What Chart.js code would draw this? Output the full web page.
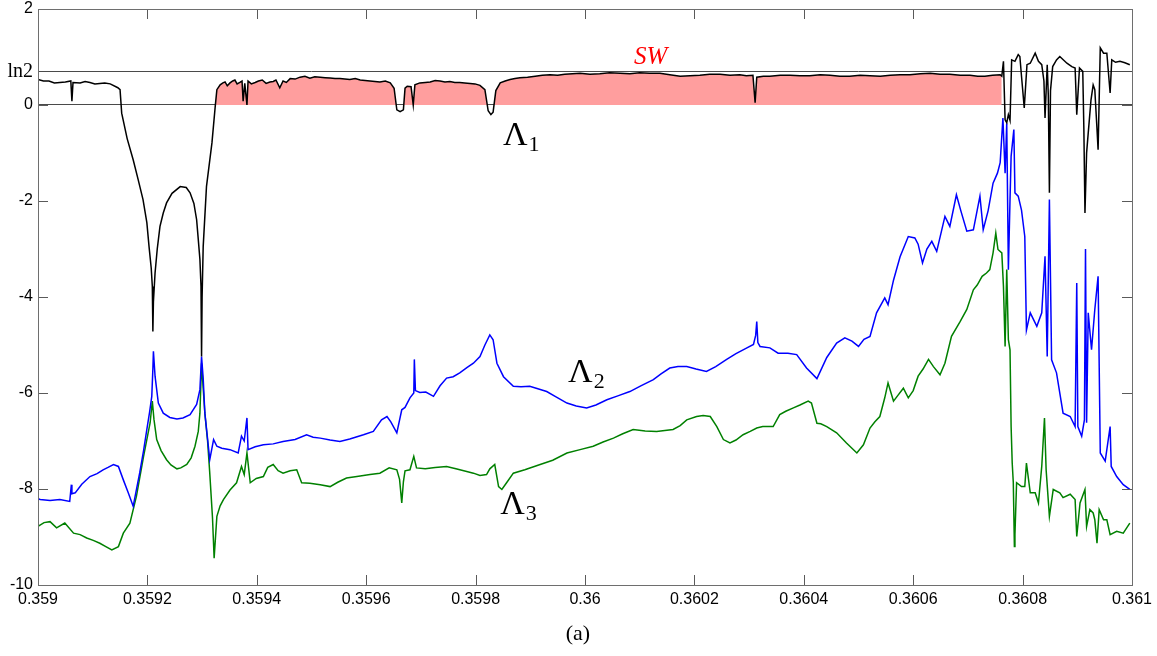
<!DOCTYPE html>
<html>
<head>
<meta charset="utf-8">
<title>Lyapunov exponents</title>
<script src="https://cdn.jsdelivr.net/npm/chart.js@4.4.1/dist/chart.umd.min.js"></script>
<style>
  html, body { margin: 0; padding: 0; background: #fff; }
  #wrap { width: 1157px; height: 656px; }
</style>
</head>
<body>
<div id="wrap"><canvas id="lyapChart" width="1157" height="656"></canvas></div>
<script>
// Axis ticks
const xTicks = [0.359, 0.3592, 0.3594, 0.3596, 0.3598, 0.36, 0.3602, 0.3604, 0.3606, 0.3608, 0.361];
const xTickLabels = ['0.359', '0.3592', '0.3594', '0.3596', '0.3598', '0.36', '0.3602', '0.3604', '0.3606', '0.3608', '0.361'];
const yTicks = [-10, -8, -6, -4, -2, 0, Math.LN2, 2];
const yTickLabels = ['-10', '-8', '-6', '-4', '-2', '0', 'ln2', '2'];

// Λ1 (largest exponent)
const lambda1X = [
  0.359, 0.35901, 0.35902, 0.35903, 0.35904, 0.35905, 0.35906, 0.359062, 0.359064, 0.359077,
  0.359086, 0.359095, 0.359104, 0.359113, 0.359122, 0.359132, 0.359146, 0.35915, 0.359153, 0.359163,
  0.359174, 0.359183, 0.359192, 0.359199, 0.359203, 0.359207, 0.359209, 0.35921, 0.359211, 0.359214,
  0.359218, 0.359223, 0.359229, 0.359235, 0.359245, 0.35926, 0.359271, 0.359278, 0.359285, 0.35929,
  0.359293, 0.359296, 0.359298, 0.359299, 0.3593, 0.359302, 0.359308, 0.359318, 0.359324, 0.359327,
  0.359333, 0.359338, 0.359342, 0.359346, 0.359351, 0.359356, 0.35936, 0.359364, 0.359369, 0.359373,
  0.359375, 0.359378, 0.359382, 0.359384, 0.35939, 0.359397, 0.359403, 0.35941, 0.359417, 0.359424,
  0.35943, 0.359435, 0.359442, 0.359448, 0.359454, 0.359461, 0.35947, 0.359479, 0.359488, 0.359497,
  0.359506, 0.359516, 0.359525, 0.359534, 0.359543, 0.359552, 0.359561, 0.35957, 0.35958, 0.359589,
  0.359598, 0.359607, 0.359616, 0.359625, 0.359635, 0.359644, 0.359651, 0.359656, 0.359662, 0.359668,
  0.359671, 0.359675, 0.359682, 0.359686, 0.359689, 0.359698, 0.359708, 0.359717, 0.359726, 0.359735,
  0.359744, 0.359753, 0.359762, 0.359771, 0.35978, 0.35979, 0.359799, 0.359808, 0.359817, 0.359823,
  0.359828, 0.359832, 0.359837, 0.359845, 0.359854, 0.359863, 0.359872, 0.359881, 0.359895, 0.359909,
  0.359922, 0.359936, 0.35995, 0.359963, 0.359977, 0.359991, 0.360009, 0.360027, 0.360045, 0.360064,
  0.360082, 0.3601, 0.360118, 0.360137, 0.360155, 0.360174, 0.360192, 0.36021, 0.360228, 0.360247,
  0.360265, 0.360283, 0.360295, 0.360307, 0.360311, 0.360314, 0.360326, 0.360338, 0.360357, 0.360375,
  0.360393, 0.360411, 0.36043, 0.360448, 0.360466, 0.360484, 0.360503, 0.360521, 0.36054, 0.360558,
  0.360576, 0.360594, 0.360613, 0.360631, 0.360649, 0.360667, 0.360686, 0.360704, 0.360718, 0.360731,
  0.360745, 0.360759, 0.360762, 0.360765, 0.360768, 0.360771, 0.360774, 0.360777, 0.36078, 0.360786,
  0.360792, 0.360795, 0.360798, 0.360803, 0.360808, 0.360814, 0.360823, 0.360829, 0.360835, 0.360839,
  0.360841, 0.360845, 0.360847, 0.360849, 0.360851, 0.360855, 0.360862, 0.360868, 0.360881, 0.36089,
  0.360896, 0.360899, 0.360904, 0.36091, 0.360912, 0.360914, 0.360917, 0.36092, 0.360925, 0.360929,
  0.360932, 0.360936, 0.360938, 0.360942, 0.360948, 0.360954, 0.36096, 0.360963, 0.36097, 0.360978,
  0.360987, 0.360996
];
const lambda1Y = [
  0.53, 0.50, 0.50, 0.46, 0.47, 0.48, 0.50, 0.08, 0.47, 0.46,
  0.49, 0.47, 0.44, 0.45, 0.46, 0.44, 0.36, 0.32, -0.17, -0.70,
  -1.14, -1.55, -1.97, -2.45, -2.95, -3.40, -3.78, -4.72, -4.10, -3.50,
  -3.00, -2.53, -2.25, -2.04, -1.84, -1.70, -1.72, -1.83, -2.05, -2.39,
  -2.80, -3.22, -3.78, -5.24, -4.00, -2.95, -1.70, -0.79, -0.03, 0.32,
  0.42, 0.46, 0.48, 0.40, 0.46, 0.50, 0.52, 0.44, 0.47, 0.50,
  0.08, 0.45, 0.00, 0.50, 0.44, 0.47, 0.50, 0.52, 0.45, 0.48,
  0.49, 0.52, 0.36, 0.50, 0.47, 0.55, 0.54, 0.58, 0.60, 0.56,
  0.59, 0.58, 0.57, 0.56, 0.55, 0.55, 0.54, 0.53, 0.55, 0.52,
  0.51, 0.50, 0.49, 0.48, 0.50, 0.46, 0.35, -0.10, -0.14, -0.10,
  0.35, 0.39, 0.38, 0.00, 0.42, 0.46, 0.47, 0.48, 0.51, 0.50,
  0.48, 0.49, 0.47, 0.47, 0.46, 0.45, 0.44, 0.41, 0.32, -0.12,
  -0.20, -0.15, 0.30, 0.46, 0.50, 0.53, 0.55, 0.57, 0.58, 0.60,
  0.62, 0.63, 0.62, 0.64, 0.65, 0.66, 0.64, 0.65, 0.67, 0.66,
  0.65, 0.67, 0.66, 0.66, 0.63, 0.60, 0.61, 0.62, 0.64, 0.64,
  0.62, 0.63, 0.61, 0.62, 0.05, 0.58, 0.60, 0.60, 0.62, 0.62,
  0.61, 0.61, 0.63, 0.62, 0.60, 0.60, 0.62, 0.61, 0.60, 0.62,
  0.63, 0.63, 0.65, 0.66, 0.64, 0.64, 0.62, 0.62, 0.60, 0.60,
  0.62, 0.63, 0.60, 0.91, -0.31, -0.37, -0.20, -0.32, 0.94, 0.91,
  1.05, 1.01, 0.60, -0.06, 0.84, 0.87, 1.08, 0.91, 0.84, 0.50,
  -0.27, 0.84, 0.20, -1.83, 0.30, 0.80, 0.94, 1.01, 0.87, 0.80,
  0.77, -0.20, 0.77, 0.70, -0.50, -2.25, -1.00, -0.58, 0.10, 0.42,
  0.32, -0.50, -0.93, 1.19, 1.08, 1.08, 0.25, 0.94, 0.89, 0.91,
  0.88, 0.84
];

// Λ2
const lambda2X = [
  0.359, 0.359004, 0.359022, 0.35904, 0.359058, 0.359061, 0.359062, 0.359068, 0.35908, 0.359095,
  0.359108, 0.359119, 0.359128, 0.359138, 0.359147, 0.359156, 0.359165, 0.359174, 0.359181, 0.359186,
  0.359193, 0.359199, 0.359204, 0.359208, 0.35921, 0.359211, 0.359214, 0.35922, 0.359229, 0.359241,
  0.359254, 0.359265, 0.359278, 0.35929, 0.359296, 0.359299, 0.359302, 0.359305, 0.359314, 0.359321,
  0.359327, 0.359336, 0.359351, 0.359366, 0.359372, 0.359377, 0.359382, 0.359384, 0.359397, 0.359412,
  0.35943, 0.359448, 0.35947, 0.359491, 0.359503, 0.359516, 0.359534, 0.359552, 0.35957, 0.359595,
  0.359613, 0.359628, 0.359638, 0.359645, 0.359656, 0.359665, 0.359671, 0.35968, 0.359687, 0.359688,
  0.35969, 0.359698, 0.359709, 0.359723, 0.359735, 0.359747, 0.359759, 0.359771, 0.359784, 0.359796,
  0.359808, 0.359817, 0.359826, 0.359832, 0.359839, 0.359851, 0.359869, 0.359883, 0.359899, 0.35993,
  0.359947, 0.359967, 0.359984, 0.360003, 0.36002, 0.36004, 0.36006, 0.360082, 0.360102, 0.360125,
  0.360139, 0.360155, 0.36017, 0.360186, 0.360203, 0.360222, 0.360239, 0.360259, 0.360276, 0.360296,
  0.360308, 0.360312, 0.360314, 0.360316, 0.36032, 0.360338, 0.360353, 0.360371, 0.360387, 0.360405,
  0.360424, 0.360442, 0.36046, 0.360475, 0.360488, 0.3605, 0.36051, 0.360521, 0.360533, 0.360548,
  0.360554, 0.360564, 0.360576, 0.360591, 0.360603, 0.360609, 0.360617, 0.360625, 0.360634, 0.360643,
  0.360658, 0.360667, 0.360679, 0.360687, 0.360698, 0.36071, 0.360722, 0.360728, 0.360737, 0.360746,
  0.360754, 0.360759, 0.360764, 0.360768, 0.360771, 0.360774, 0.360777, 0.360779, 0.360784, 0.360786,
  0.360792, 0.360798, 0.360804, 0.360807, 0.360814, 0.360826, 0.360835, 0.360841, 0.360845, 0.360849,
  0.360853, 0.360862, 0.360874, 0.360887, 0.360896, 0.360899, 0.360901, 0.360908, 0.360913, 0.360915,
  0.360917, 0.36092, 0.360926, 0.360932, 0.360938, 0.360942, 0.360951, 0.36096, 0.360962, 0.360972,
  0.360984, 0.360996
];
const lambda2Y = [
  -8.20, -8.22, -8.24, -8.22, -8.26, -7.91, -8.10, -8.08, -7.90, -7.74,
  -7.68, -7.60, -7.55, -7.49, -7.53, -7.81, -8.08, -8.36, -7.95, -7.66,
  -7.20, -6.76, -6.40, -6.07, -5.50, -5.13, -5.65, -6.21, -6.42, -6.51,
  -6.54, -6.52, -6.45, -6.24, -5.93, -5.24, -5.70, -6.41, -7.39, -6.97,
  -7.11, -7.15, -7.18, -7.25, -6.90, -7.00, -6.52, -7.18, -7.12, -7.08,
  -7.06, -7.01, -6.97, -6.87, -6.92, -6.94, -6.98, -7.01, -6.96, -6.87,
  -6.80, -6.56, -6.49, -6.60, -6.83, -6.35, -6.30, -6.10, -6.00, -5.30,
  -5.95, -5.99, -5.98, -6.07, -5.85, -5.69, -5.66, -5.58, -5.47, -5.38,
  -5.24, -5.00, -4.79, -4.89, -5.38, -5.66, -5.86, -5.87, -5.86, -5.97,
  -6.08, -6.21, -6.27, -6.31, -6.25, -6.14, -6.06, -5.97, -5.85, -5.72,
  -5.60, -5.48, -5.45, -5.45, -5.50, -5.55, -5.45, -5.30, -5.18, -5.06,
  -4.99, -4.80, -4.51, -4.95, -5.03, -5.06, -5.17, -5.17, -5.20, -5.48,
  -5.70, -5.26, -4.96, -4.85, -4.92, -5.03, -4.88, -4.82, -4.33, -4.02,
  -4.16, -3.65, -3.16, -2.74, -2.77, -2.90, -3.29, -3.00, -2.84, -3.05,
  -2.32, -2.53, -1.87, -2.20, -2.63, -2.60, -1.90, -2.60, -2.20, -1.63,
  -1.42, -1.20, -0.27, -1.42, -0.38, -3.43, -1.97, -1.07, -0.51, -1.83,
  -1.90, -2.19, -2.74, -4.69, -4.33, -4.61, -4.33, -3.15, -5.24, -1.97,
  -5.31, -5.58, -6.42, -6.49, -6.70, -3.71, -6.70, -6.90, -6.56, -3.00,
  -6.62, -4.33, -5.10, -4.26, -3.57, -7.25, -7.42, -6.70, -7.53, -7.74,
  -7.91, -8.01
];

// Λ3
const lambda3X = [
  0.359, 0.359011, 0.359022, 0.359034, 0.359049, 0.359065, 0.359077, 0.359089, 0.359101, 0.359113,
  0.359124, 0.359135, 0.359147, 0.359156, 0.359168, 0.35918, 0.359193, 0.359205, 0.359209, 0.359212,
  0.359217, 0.359225, 0.359235, 0.359243, 0.359254, 0.359261, 0.359272, 0.35928, 0.359287, 0.359293,
  0.359296, 0.359299, 0.359302, 0.359305, 0.35931, 0.359314, 0.359319, 0.359322, 0.359327, 0.359333,
  0.359339, 0.359351, 0.359363, 0.359372, 0.359377, 0.359382, 0.359388, 0.359399, 0.359412, 0.35942,
  0.35943, 0.359439, 0.359448, 0.359461, 0.359473, 0.359482, 0.359497, 0.359516, 0.359534, 0.359548,
  0.359564, 0.359583, 0.359607, 0.359625, 0.359642, 0.359656, 0.359661, 0.359665, 0.359668, 0.359671,
  0.35968, 0.359687, 0.359692, 0.359708, 0.359726, 0.359747, 0.359764, 0.359782, 0.359796, 0.359808,
  0.35982, 0.359826, 0.359835, 0.359842, 0.359848, 0.359856, 0.359869, 0.35989, 0.359918, 0.359941,
  0.359967, 0.359991, 0.360015, 0.360033, 0.360052, 0.360069, 0.360088, 0.36011, 0.360131, 0.360146,
  0.360161, 0.360174, 0.360186, 0.360204, 0.360216, 0.360229, 0.360241, 0.360253, 0.360265, 0.360276,
  0.360289, 0.360302, 0.360314, 0.360325, 0.360344, 0.360356, 0.360367, 0.360381, 0.360393, 0.360408,
  0.360414, 0.360424, 0.360431, 0.360442, 0.36046, 0.360478, 0.360488, 0.360497, 0.360509, 0.360521,
  0.36053, 0.360539, 0.360548, 0.360554, 0.360564, 0.360572, 0.360582, 0.360591, 0.3606, 0.360609,
  0.360618, 0.360628, 0.360637, 0.360649, 0.360658, 0.36067, 0.360686, 0.360698, 0.36071, 0.360717,
  0.360726, 0.360734, 0.36074, 0.360746, 0.360751, 0.360755, 0.360762, 0.360765, 0.360768, 0.360771,
  0.360774, 0.360777, 0.360779, 0.360781, 0.360783, 0.360785, 0.360786, 0.360789, 0.360798, 0.360804,
  0.360807, 0.360814, 0.360823, 0.360829, 0.360835, 0.36084, 0.360843, 0.360849, 0.360856, 0.360868,
  0.360874, 0.360887, 0.360896, 0.360899, 0.360905, 0.360914, 0.360917, 0.360923, 0.360929, 0.360932,
  0.360936, 0.36094, 0.360948, 0.360954, 0.36096, 0.360972, 0.360984, 0.360996
];
const lambda3Y = [
  -8.78, -8.70, -8.68, -8.81, -8.71, -8.92, -8.95, -9.02, -9.07, -9.13,
  -9.20, -9.27, -9.20, -8.92, -8.71, -8.15, -7.32, -6.62, -6.17, -6.55,
  -6.97, -7.20, -7.39, -7.50, -7.58, -7.56, -7.49, -7.35, -7.11, -6.80,
  -6.42, -5.38, -5.90, -6.42, -7.00, -7.67, -8.60, -9.44, -8.57, -8.35,
  -8.22, -8.02, -7.87, -7.53, -7.70, -7.25, -7.87, -7.78, -7.74, -7.55,
  -7.49, -7.62, -7.67, -7.62, -7.60, -7.87, -7.88, -7.91, -7.95, -7.86,
  -7.77, -7.74, -7.70, -7.67, -7.56, -7.60, -7.80, -8.29, -7.85, -7.62,
  -7.60, -7.32, -7.56, -7.58, -7.55, -7.53, -7.58, -7.63, -7.67, -7.72,
  -7.70, -7.58, -7.49, -7.95, -8.01, -7.88, -7.67, -7.60, -7.49, -7.40,
  -7.25, -7.18, -7.11, -7.02, -6.94, -6.85, -6.76, -6.79, -6.80, -6.78,
  -6.76, -6.68, -6.56, -6.49, -6.47, -6.49, -6.70, -6.97, -7.04, -6.98,
  -6.87, -6.80, -6.73, -6.70, -6.70, -6.45, -6.38, -6.31, -6.25, -6.17,
  -6.21, -6.63, -6.64, -6.70, -6.83, -7.04, -7.15, -7.25, -7.08, -6.73,
  -6.60, -6.49, -6.10, -5.79, -6.17, -6.05, -5.90, -6.10, -5.95, -5.65,
  -5.50, -5.30, -5.45, -5.62, -5.38, -4.82, -4.51, -4.26, -3.85, -3.75,
  -3.57, -3.50, -3.43, -3.08, -2.67, -3.01, -3.08, -3.78, -5.03, -3.43,
  -4.89, -5.10, -6.70, -7.46, -7.87, -9.20, -8.95, -7.87, -7.95, -7.95,
  -7.46, -8.08, -8.08, -8.29, -7.53, -6.52, -7.60, -8.57, -8.01, -8.08,
  -8.18, -8.11, -8.22, -8.99, -8.29, -8.01, -8.78, -8.43, -8.50, -8.64,
  -9.13, -8.43, -8.64, -8.64, -8.95, -8.88, -8.92, -8.71
];

// x range of the shaded SW window (Λ1 > 0)
const swRange = [0.359324, 0.360762];

function toPoints(xs, ys) {
    return xs.map((x, i) => ({ x: x, y: ys[i] }));
}

const swPoints = toPoints(lambda1X, lambda1Y).filter(p => p.x >= swRange[0] && p.x <= swRange[1]);

// Box frame, inward ticks and the text labels
const framePlugin = {
    id: 'frame',
    afterDraw(chart) {
        const { ctx, chartArea: a, scales } = chart;
        const xs = scales.x, ys = scales.y;
        const tl = 10;
        ctx.save();
        ctx.lineWidth = 1;
        ctx.strokeStyle = '#5a5a5a';
        ctx.beginPath();
        xTicks.forEach(v => {
            const px = Math.round(xs.getPixelForValue(v)) + 0.5;
            ctx.moveTo(px, a.bottom); ctx.lineTo(px, a.bottom - tl);
            ctx.moveTo(px, a.top); ctx.lineTo(px, a.top + tl);
        });
        yTicks.forEach(v => {
            if (v === Math.LN2) return;
            const py = Math.round(ys.getPixelForValue(v)) + 0.5;
            ctx.moveTo(a.left, py); ctx.lineTo(a.left + tl, py);
            ctx.moveTo(a.right, py); ctx.lineTo(a.right - tl, py);
        });
        ctx.stroke();
        ctx.strokeStyle = '#6e6e6e';
        ctx.strokeRect(Math.round(a.left) + 0.5, Math.round(a.top) + 0.5,
            Math.round(a.right - a.left), Math.round(a.bottom - a.top));

        // Greek labels with subscripts
        const greek = (sub, xv, yv) => {
            const px = xs.getPixelForValue(xv);
            const py = ys.getPixelForValue(yv);
            ctx.fillStyle = '#000';
            ctx.textAlign = 'left';
            ctx.textBaseline = 'alphabetic';
            ctx.font = '34px "Liberation Serif", "DejaVu Serif", serif';
            ctx.fillText('Λ', px, py);
            const w = ctx.measureText('Λ').width;
            ctx.font = '22px "Liberation Serif", "DejaVu Serif", serif';
            ctx.fillText(sub, px + w + 1, py + 6);
        };
        greek('1', 0.35985, -0.83);
        greek('2', 0.359969, -5.77);
        greek('3', 0.359845, -8.52);

        ctx.fillStyle = '#ff0000';
        ctx.font = 'italic 25px "Liberation Serif", serif';
        ctx.textAlign = 'center';
        ctx.textBaseline = 'middle';
        ctx.fillText('SW', xs.getPixelForValue(0.36012), ys.getPixelForValue(1.0));

        ctx.fillStyle = '#000';
        ctx.font = '22px "Liberation Serif", serif';
        ctx.fillText('(a)', xs.getPixelForValue(0.359987), a.bottom + 49);
        ctx.restore();
    }
};

const serifTick = { family: '"Liberation Serif", serif', size: 20 };
const sansTick = { family: '"Liberation Sans", Arial, sans-serif', size: 16 };

new Chart(document.getElementById('lyapChart'), {
    type: 'line',
    data: {
        datasets: [
            {
                label: 'Λ1',
                data: toPoints(lambda1X, lambda1Y),
                borderColor: '#000000',
                borderWidth: 1.5
            },
            {
                label: 'Λ2',
                data: toPoints(lambda2X, lambda2Y),
                borderColor: '#0000ff',
                borderWidth: 1.5
            },
            {
                label: 'Λ3',
                data: toPoints(lambda3X, lambda3Y),
                borderColor: '#008000',
                borderWidth: 1.5
            },
            {
                label: 'SW',
                data: swPoints,
                borderWidth: 0,
                borderColor: 'rgba(0,0,0,0)',
                fill: { target: 'origin', above: '#ff9e9e', below: 'rgba(0,0,0,0)' }
            }
        ]
    },
    options: {
        responsive: false,
        animation: false,
        events: [],
        elements: { point: { radius: 0 }, line: { tension: 0 } },
        layout: { padding: { top: 9, right: 25, left: 0, bottom: 0 } },
        plugins: { legend: { display: false }, tooltip: { enabled: false } },
        scales: {
            x: {
                type: 'linear',
                min: 0.359,
                max: 0.361,
                afterFit: s => { s.height = 71; s.paddingLeft = 0; s.paddingRight = 0; },
                afterBuildTicks: s => { s.ticks = xTicks.map(v => ({ value: v })); },
                grid: { display: false, drawTicks: false },
                border: { display: false },
                ticks: {
                    color: '#000',
                    font: sansTick,
                    padding: 5,
                    maxRotation: 0,
                    autoSkip: false,
                    callback: (v, i) => xTickLabels[i]
                }
            },
            y: {
                min: -10,
                max: 2,
                afterFit: s => { s.width = 38; s.paddingTop = 0; s.paddingBottom = 0; },
                afterBuildTicks: s => { s.ticks = yTicks.map(v => ({ value: v })); },
                grid: {
                    drawTicks: false,
                    lineWidth: 1,
                    color: c => (c.tick && (c.tick.value === 0 || c.tick.value === Math.LN2)) ? '#4a4a4a' : 'rgba(0,0,0,0)'
                },
                border: { display: false },
                ticks: {
                    color: '#000',
                    padding: 5,
                    autoSkip: false,
                    font: c => (c.tick && c.tick.value === Math.LN2) ? serifTick : sansTick,
                    callback: (v, i) => yTickLabels[i]
                }
            }
        }
    },
    plugins: [framePlugin]
});
</script>
</body>
</html>
